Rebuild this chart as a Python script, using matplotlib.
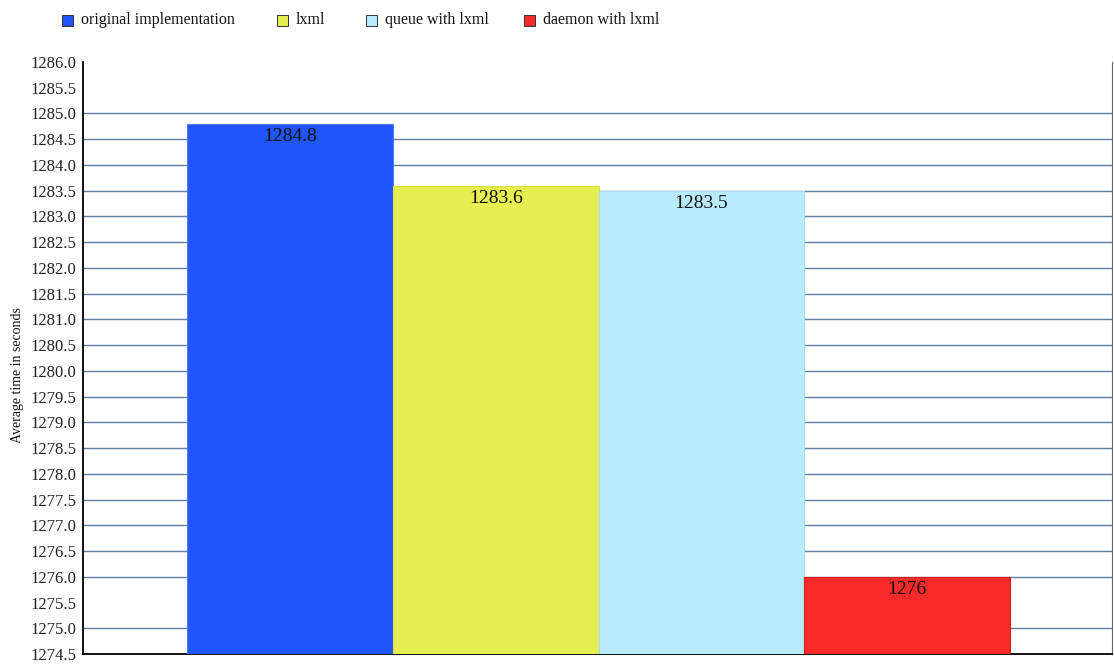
import matplotlib
matplotlib.use("Agg")
import matplotlib.pyplot as plt
from matplotlib.patches import Rectangle

series_names = ["original implementation", "lxml", "queue with lxml", "daemon with lxml"]
values = [1284.8, 1283.6, 1283.5, 1276.0]
value_labels = ["1284.8", "1283.6", "1283.5", "1276"]
colors = ["#1f55fb", "#e6ee52", "#b8ecfd", "#f92a2a"]
edge_colors = ["#4f7cfb", "#d8e040", "#a8dcec", "#d02020"]
y_ticks = [1274.5 + 0.5 * i for i in range(24)]
grid_values = [v for v in y_ticks if v not in (1274.5, 1275.5, 1285.5, 1286.0)]

plt.rcParams["font.family"] = ["Liberation Serif", "DejaVu Serif"]

W, H = 1114, 666
fig = plt.figure(figsize=(W / 100, H / 100), dpi=100)
ax = fig.add_axes([83 / W, 1 - 654 / H, (1112 - 83) / W, (654 - 62) / H])

ymin = 1274.5
for i, (v, c, ec) in enumerate(zip(values, colors, edge_colors)):
    ax.bar(i, v - ymin, bottom=ymin, width=1.0, color=c, edgecolor=ec,
           linewidth=0.8, zorder=3)
    ax.annotate(value_labels[i], xy=(i, v), xytext=(0, -3), textcoords="offset points",
                ha="center", va="top", fontsize=14, color="#111111", zorder=4)

for g in grid_values:
    ax.axhline(g, color="#5f7fa2", linewidth=1.0, zorder=1)

ax.set_xlim(-1.005, 3.995)
ax.set_ylim(1274.5, 1286.0)
ax.set_yticks(y_ticks)
ax.set_yticklabels([f"{t:.1f}" for t in y_ticks], fontsize=12, color="#222222")
ax.tick_params(axis="y", length=0, pad=5)
ax.set_xticks([])
ax.spines["top"].set_visible(False)
ax.spines["right"].set_color("#666666")
ax.spines["left"].set_color("black")
ax.spines["bottom"].set_color("black")
ax.spines["left"].set_linewidth(1.3)
ax.spines["bottom"].set_linewidth(1.3)
ax.set_ylabel("Average time in seconds", fontsize=10, color="#111111")
ax.yaxis.set_label_coords((24 - 83) / (1112 - 83), (654 - 375) / (654 - 62))

legend_x = [62, 277, 366, 524]
for name, c, x in zip(series_names, colors, legend_x):
    fig.add_artist(Rectangle((x / W, 1 - 26 / H), 11 / W, 11 / H, facecolor=c,
                             edgecolor="#333333", linewidth=0.7, transform=fig.transFigure))
    fig.text((x + 19) / W, 1 - 20.5 / H, name, fontsize=11.5, va="center", ha="left",
             color="#111111")

fig.savefig("out.png", dpi=100)
